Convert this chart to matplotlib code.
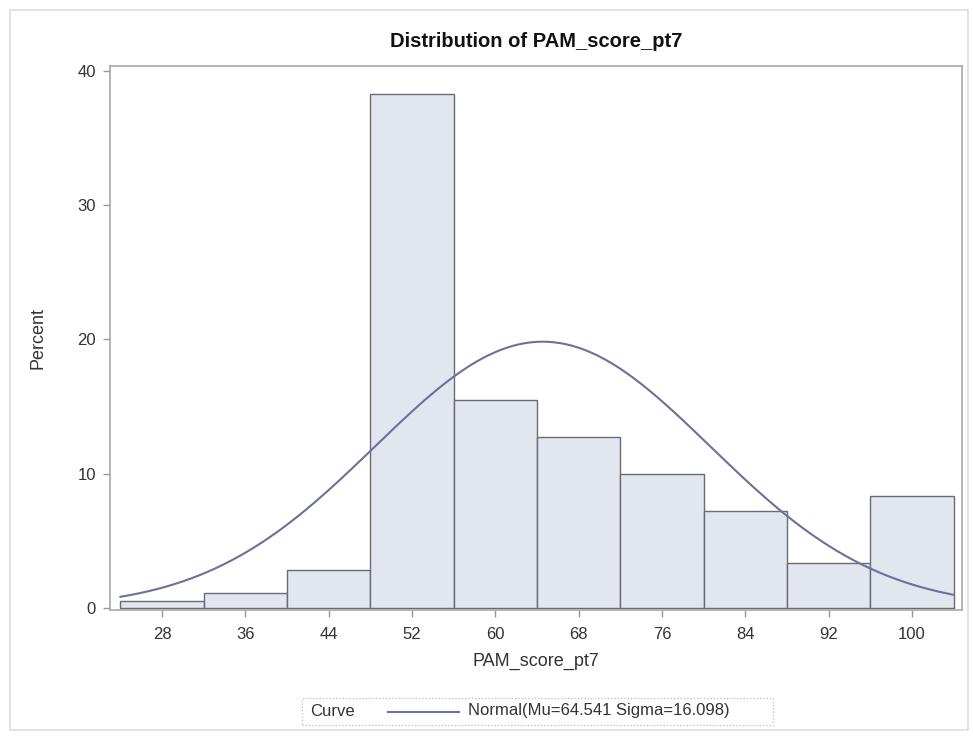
import numpy as np
import matplotlib.pyplot as plt
from matplotlib.patches import Rectangle
from matplotlib.lines import Line2D

plt.rcParams["font.family"] = ["Liberation Sans", "DejaVu Sans"]

# histogram bins (midpoints) and percent per bin
bin_mids = [28, 36, 44, 52, 60, 68, 76, 84, 92, 100]
percent = [0.55, 1.1, 2.8, 38.3, 15.5, 12.75, 9.95, 7.2, 3.35, 8.3]
bin_width = 8

# fitted normal (from the legend)
mu = 64.541
sigma = 16.098

BAR_FILL = "#e1e6ef"
BAR_EDGE = "#6b6b75"
CURVE = "#6d7199"
FRAME = "#a8a8a8"
TEXT = "#333333"

fig = plt.figure(figsize=(9.73, 7.37), dpi=100)
fig.patch.set_facecolor("white")
fig.add_artist(Rectangle((10 / 973, 7 / 737), 958 / 973, 720 / 737,
                         transform=fig.transFigure, fill=False,
                         edgecolor="#dddddd", linewidth=1.2))

ax = fig.add_axes([110 / 973, 1 - 610 / 737, 852 / 973, 544 / 737])
ax.bar(bin_mids, percent, width=bin_width, color=BAR_FILL,
       edgecolor=BAR_EDGE, linewidth=1.0, zorder=2)

# normal density scaled to percent per bin
xs = np.linspace(bin_mids[0] - bin_width / 2, bin_mids[-1] + bin_width / 2, 300)
ys = 100 * bin_width * np.exp(-0.5 * ((xs - mu) / sigma) ** 2) / (sigma * np.sqrt(2 * np.pi))
ax.plot(xs, ys, color=CURVE, linewidth=1.5, zorder=3)

ax.set_xlim(23.0, 104.8)
ax.set_ylim(-0.15, 40.35)
ax.set_xticks(bin_mids)
ax.set_yticks([0, 10, 20, 30, 40])
for s in ax.spines.values():
    s.set_color(FRAME)
    s.set_linewidth(1.2)
ax.tick_params(axis="both", colors="#999999", labelcolor=TEXT,
               labelsize=12, length=5, width=1)
ax.tick_params(axis="x", pad=7)
ax.tick_params(axis="y", pad=5)

ax.set_xlabel("PAM_score_pt7", fontsize=13, color=TEXT, labelpad=8)
ax.set_ylabel("Percent", fontsize=13, color=TEXT, labelpad=22)
ax.set_title("Distribution of PAM_score_pt7", fontsize=14.5, fontweight="bold",
             color="#111111", pad=14)

# legend box at the bottom
fig.add_artist(Rectangle((302 / 973, 1 - 725 / 737), 471 / 973, 27 / 737,
                         transform=fig.transFigure, fill=False,
                         edgecolor="#bbbbbb", linewidth=0.9, linestyle=":"))
fig.text(310 / 973, 1 - 711 / 737, "Curve", fontsize=12, color=TEXT,
         va="center", ha="left")
fig.add_artist(Line2D([388 / 973, 459 / 973], [1 - 712 / 737, 1 - 712 / 737],
                      transform=fig.transFigure, color=CURVE, linewidth=1.5))
fig.text(468 / 973, 1 - 711 / 737,
         f"Normal(Mu={mu:.3f} Sigma={sigma:.3f})", fontsize=12, color=TEXT,
         va="center", ha="left")

fig.savefig("out.png", dpi=100)
